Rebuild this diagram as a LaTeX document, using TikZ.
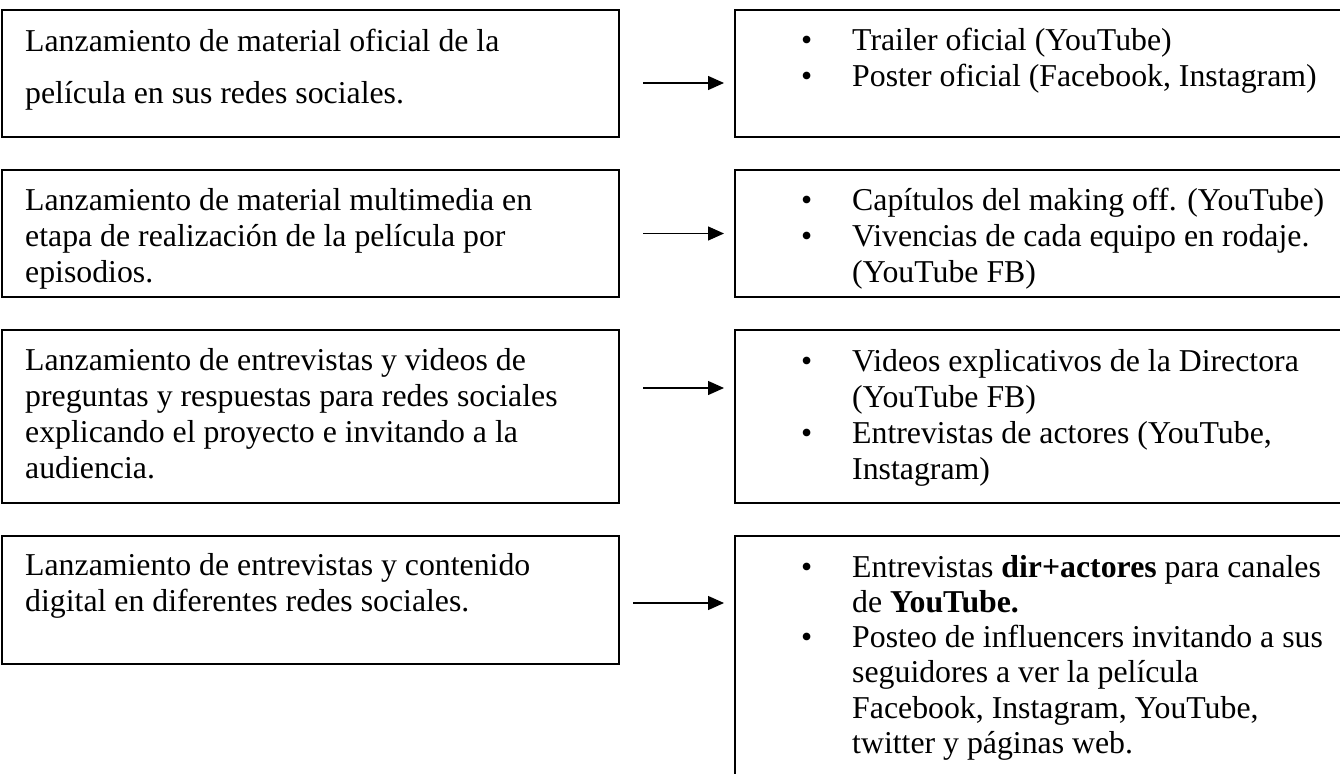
\documentclass[tikz,border=0pt]{standalone}
\usepackage{fontspec}
\setmainfont{Liberation Serif}
\usetikzlibrary{arrows.meta}
\newcommand{\vineta}{\llap{\makebox[51pt][l]{•}}}

\begin{document}
\begin{tikzpicture}[x=1pt,y=-1pt,
    caja/.style={draw, line width=2pt, inner sep=0pt, outer sep=0pt, anchor=north west},
    texto/.style={inner sep=0pt, anchor=north west, align=left, font=\fontsize{31.8}{36}\selectfont},
    flecha/.style={-{Triangle[length=16pt,width=14pt]}, line width=1.3pt, shorten >=11pt}]
    \useasboundingbox (0,0) rectangle (1340,773);
    \clip (0,0) rectangle (1340,773);
    % cajas de la izquierda
    \node[caja, minimum width=617pt, minimum height=127pt] (izq1) at (2,10) {};
    \node[caja, minimum width=617pt, minimum height=127pt] (izq2) at (2,170) {};
    \node[caja, minimum width=617pt, minimum height=173pt] (izq3) at (2,330) {};
    \node[caja, minimum width=617pt, minimum height=128pt] (izq4) at (2,536) {};
    % cajas de la derecha
    \node[caja, minimum width=640pt, minimum height=127pt] (der1) at (735,10) {};
    \node[caja, minimum width=640pt, minimum height=127pt] (der2) at (735,170) {};
    \node[caja, minimum width=640pt, minimum height=173pt] (der3) at (735,330) {};
    \node[caja, minimum width=640pt, minimum height=300pt] (der4) at (735,536) {};
    % textos
    \node[texto] (tizq1) at ([xshift=23pt,yshift=-15.8pt]izq1.north west)
        {\strut Lanzamiento de material oficial de la\\[16pt]película en sus redes sociales.};
    \node[texto] (tizq2) at ([xshift=23pt,yshift=-14.8pt]izq2.north west)
        {\strut Lanzamiento de material multimedia en\\etapa de realización de la película por\\episodios.};
    \node[texto] (tizq3) at ([xshift=23pt,yshift=-14.8pt]izq3.north west)
        {\strut Lanzamiento de entrevistas y videos de\\preguntas y respuestas para redes sociales\\explicando el proyecto e invitando a la\\audiencia.};
    \node[texto] (tizq4) at ([xshift=23pt,yshift=-13.8pt]izq4.north west)
        {\strut Lanzamiento de entrevistas y contenido\\digital en diferentes redes sociales.};
    \node[texto] (tder1) at ([xshift=117pt,yshift=-14.8pt]der1.north west)
        {\strut\vineta Trailer oficial (YouTube)\\\vineta Poster oficial (Facebook, Instagram)};
    \node[texto] (tder2) at ([xshift=117pt,yshift=-14.8pt]der2.north west)
        {\strut\vineta Capítulos del making off. (YouTube)\\\vineta Vivencias de cada equipo en rodaje.\\(YouTube FB)};
    \node[texto] (tder3) at ([xshift=117pt,yshift=-15.8pt]der3.north west)
        {\strut\vineta Videos explicativos de la Directora\\(YouTube FB)\\\vineta Entrevistas de actores (YouTube,\\Instagram)};
    \node[texto, font=\fontsize{31.8}{35.2}\selectfont] (tder4) at ([xshift=117pt,yshift=-16.4pt]der4.north west)
        {\strut\vineta Entrevistas \textbf{dir+actores} para canales\\de \textbf{YouTube.}\\\vineta Posteo de influencers invitando a sus\\seguidores a ver la película\\Facebook, Instagram, YouTube,\\twitter y páginas web.};
    % flechas
    \draw[flecha, shorten <=24pt] ([yshift=-9.5pt]izq1.east) -- ([yshift=-9.5pt]izq1.east -| der1.west);
    \draw[flecha, shorten <=24pt] (izq2.east) -- (izq2.east -| der2.west);
    \draw[flecha, shorten <=24pt] ([yshift=28.5pt]izq3.east) -- ([yshift=28.5pt]izq3.east -| der3.west);
    \draw[flecha, shorten <=14pt] ([yshift=-3pt]izq4.east) -- ([yshift=-3pt]izq4.east -| der4.west);
\end{tikzpicture}
\end{document}
